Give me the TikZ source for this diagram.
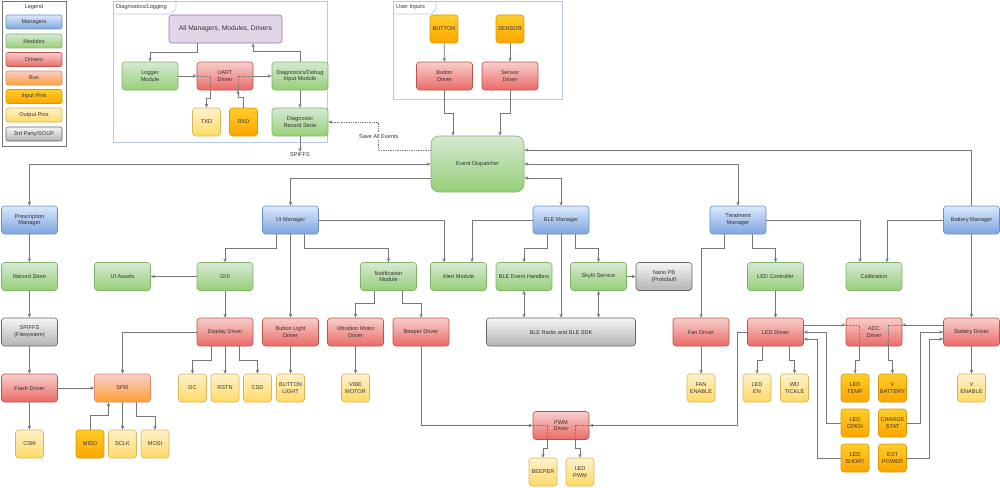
\documentclass[tikz,border=0pt]{standalone}
\usepackage{fontspec}
\setmainfont{Liberation Sans}
\usetikzlibrary{arrows.meta}

\definecolor{txt}{HTML}{333333}
\definecolor{wire}{HTML}{777777}
\definecolor{frmline}{HTML}{B4C8EA}
\definecolor{mgrtop}{HTML}{DAE8FC}
\definecolor{mgrbot}{HTML}{7EA6E0}
\definecolor{mgrline}{HTML}{6C8EBF}
\definecolor{modtop}{HTML}{D5E8D4}
\definecolor{modbot}{HTML}{97D077}
\definecolor{modline}{HTML}{82B366}
\definecolor{drvtop}{HTML}{F8CECC}
\definecolor{drvbot}{HTML}{EA6B66}
\definecolor{drvline}{HTML}{B85450}
\definecolor{bustop}{HTML}{F8CECC}
\definecolor{busbot}{HTML}{FFA033}
\definecolor{busline}{HTML}{D98A6A}
\definecolor{intop}{HTML}{FFCD28}
\definecolor{inbot}{HTML}{FFA500}
\definecolor{inline}{HTML}{D79B00}
\definecolor{outtop}{HTML}{FFF2CC}
\definecolor{outbot}{HTML}{FFD966}
\definecolor{outline}{HTML}{D6B656}
\definecolor{souptop}{HTML}{F5F5F5}
\definecolor{soupbot}{HTML}{B3B3B3}
\definecolor{soupline}{HTML}{666666}
\definecolor{allfill}{HTML}{E1D5E7}
\definecolor{allline}{HTML}{9673A6}

\newcommand\boxfont{\fontsize{5.6}{6.8}\selectfont}

\begin{document}
\begin{tikzpicture}[>={Stealth[length=4pt,width=3.4pt]}, x=1pt, y=-1pt,
base/.style={rectangle, rounded corners=3pt, align=center, inner sep=0.5pt, minimum width=56pt, minimum height=28pt, font=\boxfont, text=txt, line width=0.6pt},
mgr/.style={base, draw=mgrline, top color=mgrtop, bottom color=mgrbot},
mod/.style={base, draw=modline, top color=modtop, bottom color=modbot},
drv/.style={base, draw=drvline, top color=drvtop, bottom color=drvbot},
bus/.style={base, draw=busline, top color=bustop, bottom color=busbot},
inpin/.style={base, minimum width=28pt, draw=inline, top color=intop, bottom color=inbot},
outpin/.style={base, minimum width=28pt, draw=outline, top color=outtop, bottom color=outbot},
soup/.style={base, draw=soupline, top color=souptop, bottom color=soupbot},
key/.style={minimum height=14pt, rounded corners=2pt},
frm/.style={draw=frmline, line width=0.7pt},
conn/.style={draw=wire, line width=0.75pt},
ttl/.style={font=\boxfont, text=txt, inner sep=1pt}]

\useasboundingbox (0,0) rectangle (1000,487);

% legend
\draw[black!55, line width=0.6pt] (2,1) rectangle (66,146);
\draw (34,7) node[ttl] (LGT) {Legend};
\draw (34,22) node[mgr,key] (Kmgr) {Managers};
\draw (34,41) node[mod,key] (Kmod) {Modules};
\draw (34,59.5) node[drv,key] (Kdrv) {Drivers};
\draw (34,78) node[bus,key] (Kbus) {Bus};
\draw (34,96.5) node[inpin,key,minimum width=56pt] (Kin) {Input Pins};
\draw (34,115) node[outpin,key,minimum width=56pt] (Kout) {Output Pins};
\draw (34,134) node[soup,key] (Ksoup) {3rd Party/SOUP};

% frames
\draw[frm] (113,1) rectangle (327,142);
\draw[frm] (113,14) -- (171,14) -- (176,9) -- (176,1);
\draw (115,7.5) node[ttl,anchor=west] {Diagnostics/Logging};
\draw[frm] (393,1) rectangle (562,99);
\draw[frm] (393,14) -- (431,14) -- (436,9) -- (436,1);
\draw (395,7.5) node[ttl,anchor=west] {User Inputs};

% diagnostics / logging
\draw (225.5,29) node[base, draw=allline, fill=allfill, minimum width=113pt, font=\fontsize{6.7}{8}\selectfont] (ALL) {All Managers, Modules, Drivers};
\draw (150,76) node[mod] (LOG) {Logger\\Module};
\draw (225,76) node[drv] (UART) {UART\\Driver};
\draw (300,76) node[mod] (DBG) {Diagnostics/Debug\\Input Module};
\draw (206.5,122) node[outpin] (TXD) {TXD};
\draw (243.5,122) node[inpin] (RXD) {RXD};
\draw (300,122) node[mod] (DRS) {Diagnostic\\Record Store};
\draw (300,155) node[ttl] (SPF) {SPIFFS};

% user inputs
\draw (444,29) node[inpin] (BTN) {BUTTON};
\draw (510,29) node[inpin] (SNS) {SENSOR};
\draw (444.5,76) node[drv] (BTD) {Button\\Driver};
\draw (510,76) node[drv] (SND) {Sensor\\Driver};

\draw (477.5,164) node[mod, minimum width=93pt, minimum height=56pt, rounded corners=8pt] (ED) {Event Dispatcher};

% managers
\draw (29.5,220) node[mgr] (PM) {Prescription\\Manager};
\draw (290.5,220) node[mgr] (UIM) {UI Manager};
\draw (561,220) node[mgr] (BLM) {BLE Manager};
\draw (738,220) node[mgr] (TM) {Treatment\\Manager};
\draw (971.5,220) node[mgr] (BM) {Battery Manager};

% modules
\draw (29.5,276.5) node[mod] (RS) {Record Store};
\draw (122.5,276.5) node[mod] (UIA) {UI Assets};
\draw (225,276.5) node[mod] (GUI) {GUI};
\draw (388.5,276.5) node[mod] (NM) {Notification\\Module};
\draw (458.5,276.5) node[mod] (AM) {Alert Module};
\draw (524,276.5) node[mod] (BEH) {BLE Event Handlers};
\draw (598.5,276.5) node[mod] (SKY) {Skylit Service};
\draw (664,276.5) node[soup] (NPB) {Nano PB\\(Protobuf)};
\draw (775.5,276.5) node[mod] (LEDC) {LED Controller};
\draw (874,276.5) node[mod] (CAL) {Calibration};

% drivers
\draw (29.5,332) node[soup] (SPFS) {SPIFFS\\(Filesystem)};
\draw (225,332) node[drv] (DD) {Display Driver};
\draw (290.5,332) node[drv] (BLD) {Button Light\\Driver};
\draw (355.5,332) node[drv] (VMD) {Vibration Motor\\Driver};
\draw (421,332) node[drv] (BPD) {Beeper Driver};
\draw (561,332) node[soup, minimum width=149pt] (BLER) {BLE Radio and BLE SDK};
\draw (701,332) node[drv] (FAN) {Fan Driver};
\draw (775.5,332) node[drv] (LEDD) {LED Driver};
\draw (874,332) node[drv] (ADC) {ADC\\Driver};
\draw (971.5,332) node[drv] (BATD) {Battery Driver};

% pins and bus
\draw (29.5,388) node[drv] (FLD) {Flash Driver};
\draw (122.5,388) node[bus] (SPI) {SPI0};
\draw (192.5,388) node[outpin] (DC) {DC};
\draw (225,388) node[outpin] (RSTN) {RSTN};
\draw (257.5,388) node[outpin] (CSD) {CSD};
\draw (290.5,388) node[outpin] (BL) {BUTTON\\LIGHT};
\draw (355.5,388) node[outpin] (VIBE) {VIBE\\MOTOR};
\draw (701,388) node[outpin] (FANE) {FAN\\ENABLE};
\draw (757,388) node[outpin] (LEDEN) {LED\\EN};
\draw (794.5,388) node[outpin] (WDT) {WD\\TICKLE};
\draw (855,388) node[inpin] (LEDT) {LED\\TEMP};
\draw (892.5,388) node[inpin] (VBAT) {V\\BATTERY};
\draw (971.5,388) node[outpin] (VEN) {V\\ENABLE};

\draw (29.5,444) node[outpin] (CSM) {CSM};
\draw (90,444) node[inpin] (MISO) {MISO};
\draw (122.5,444) node[outpin] (SCLK) {SCLK};
\draw (155,444) node[outpin] (MOSI) {MOSI};
\draw (855,423) node[inpin] (LEDO) {LED\\OPEN};
\draw (892.5,423) node[inpin] (CHG) {CHARGE\\STAT};
\draw (855,458) node[inpin] (LEDS) {LED\\SHORT};
\draw (892.5,458) node[inpin] (EXT) {EXT\\POWER};
\draw (561,425.5) node[drv] (PWM) {PWM\\Driver};
\draw (543,472) node[outpin] (BEEP) {BEEPER};
\draw (580,472) node[outpin] (LPWM) {LED\\PWM};

% diagnostics links
\draw[conn,->] ([xshift=-28.5pt]ALL.south) -- ++(0,9) -| (LOG);
\draw[conn,->] (DBG.north) -- ++(0,-10) -| ([xshift=27.5pt]ALL.south);
\draw[conn,->] (LOG) -- (UART);
\draw[conn,->] (UART) -- (DBG);
\draw[conn,densely dotted] (UART.west) -| ([xshift=-15pt]UART.south);
\draw[conn,->] ([xshift=-15pt]UART.south) -- ++(0,8) -| (TXD);
\draw[conn,->] (RXD.north) -- ++(0,-10) -| ([xshift=13pt]UART.south);
\draw[conn,densely dotted] ([xshift=13pt]UART.south) |- (UART.east);
\draw[conn,->] (DBG) -- (DRS);
\draw[conn,->] (DRS) -- (SPF);
\draw[conn,->,densely dotted] ([yshift=14pt]ED.west) -- ++(-52,0) |- node[pos=0.25, ttl, fill=white] {Save All Events} (DRS);

% user inputs links
\draw[conn,->] (BTN) -- (BTD);
\draw[conn,->] (SNS) -- (SND);
\draw[conn,->] (BTD.south) -- ++(0,23) -| ([xshift=-24.5pt]ED.north);
\draw[conn,->] (SND.south) -- ++(0,23) -| ([xshift=22.5pt]ED.north);

% dispatcher links
\draw[conn,<->] (ED.west) -| (PM);
\draw[conn,->] ([yshift=-14pt]ED.west) -| (UIM);
\draw[conn,->] (BM) |- ([yshift=14pt]ED.east);
\draw[conn,<->] (ED.east) -| (TM);
\draw[conn,<->] ([yshift=-14pt]ED.east) -| (BLM);

% prescription
\draw[conn,->] (PM) -- (RS);
\draw[conn,->] (RS) -- (SPFS);
\draw[conn,->] (SPFS) -- (FLD);
\draw[conn,->] (FLD) -- (CSM);
\draw[conn,->] (FLD) -- (SPI);

% ui manager
\draw[conn,->] ([xshift=-14.5pt]UIM.south) -- ++(0,14) -| (GUI);
\draw[conn,->] (UIM) -- (BLD);
\draw[conn,->] ([xshift=13.5pt]UIM.south) -- ++(0,14) -| (NM);
\draw[conn,->] (UIM.east) -| ([xshift=-14.5pt]AM.north);
\draw[conn,->] (GUI) -- (UIA);
\draw[conn,->] (GUI) -- (DD);
\draw[conn,->] (DD.west) -| (SPI);
\draw[conn,->] ([xshift=-14pt]DD.south) -- ++(0,14) -| (DC);
\draw[conn,->] (DD) -- (RSTN);
\draw[conn,->] ([xshift=14pt]DD.south) -- ++(0,14) -| (CSD);
\draw[conn,->] (BLD) -- (BL);
\draw[conn,->] (SPI) -- (SCLK);
\draw[conn,->] ([xshift=14pt]SPI.south) -- ++(0,14) -| (MOSI);
\draw[conn,->] (MISO.north) -- ++(0,-14) -| ([xshift=-14pt]SPI.south);

% notification
\draw[conn,->] ([xshift=-14.5pt]NM.south) -- ++(0,13) -| (VMD);
\draw[conn,->] ([xshift=13.5pt]NM.south) -- ++(0,13) -| (BPD);
\draw[conn,->] (VMD) -- (VIBE);
\draw[conn,->] (BPD) |- (PWM);
\draw[conn,densely dotted] (PWM.west) -| ([xshift=-14pt]PWM.south);
\draw[conn,->] ([xshift=-14pt]PWM.south) -- ++(0,9) -| (BEEP);
\draw[conn,densely dotted] (PWM.east) -| ([xshift=14pt]PWM.south);
\draw[conn,->] ([xshift=14pt]PWM.south) -- ++(0,9) -| (LPWM);
\draw[conn,->] (LEDD.west) -- ++(-10,0) |- (PWM.east);

% ble
\draw[conn,->] (BLM.west) -| ([xshift=13.5pt]AM.north);
\draw[conn,->] ([xshift=-14pt]BLM.south) -- ++(0,14) -| (BEH);
\draw[conn,->] (BLM) -- (BLER);
\draw[conn,->] ([xshift=14pt]BLM.south) -- ++(0,14) -| (SKY);
\draw[conn,->] (SKY) -- (NPB);
\draw[conn,<->] (BEH) -- (BEH |- BLER.north);
\draw[conn,<->] (SKY) -- (SKY |- BLER.north);

% treatment and battery
\draw[conn,->] ([xshift=-14pt]TM.south) -- ++(0,14) -| (FAN);
\draw[conn,->] ([xshift=14pt]TM.south) -- ++(0,14) -| (LEDC);
\draw[conn,->] (TM.east) -| ([xshift=-14pt]CAL.north);
\draw[conn,->] (BM.west) -| ([xshift=13pt]CAL.north);
\draw[conn,->] (BM) -- (BATD);
\draw[conn,->] (LEDC) -- (LEDD);
\draw[conn,->] (FAN) -- (FANE);
\draw[conn,->] ([xshift=-13.5pt]LEDD.south) -- ++(0,14) -| (LEDEN);
\draw[conn,->] ([xshift=13.5pt]LEDD.south) -- ++(0,14) -| (WDT);
\draw[conn,->] ([yshift=7pt]LEDD.east) -- ([yshift=7pt]ADC.west);
\draw[conn,->] ([yshift=7pt]BATD.west) -- ([yshift=7pt]ADC.east);
\draw[conn,densely dotted] ([yshift=7pt]ADC.west) -| ([xshift=-15pt]ADC.south);
\draw[conn,->] ([xshift=-15pt]ADC.south) -- ++(0,14) -| (LEDT);
\draw[conn,densely dotted] ([yshift=7pt]ADC.east) -| ([xshift=14pt]ADC.south);
\draw[conn,->] ([xshift=14pt]ADC.south) -- ++(0,14) -| (VBAT);
\draw[conn,->] (LEDO.west) -- ++(-14,0) |- (LEDD.east);
\draw[conn,->] (LEDS.west) -- ++(-23,0) |- ([yshift=-7pt]LEDD.east);
\draw[conn,->] (CHG.east) -- ++(13.5,0) |- (BATD.west);
\draw[conn,->] (EXT.east) -- ++(22.5,0) |- ([yshift=-7pt]BATD.west);
\draw[conn,->] (BATD) -- (VEN);
\end{tikzpicture}
\end{document}
